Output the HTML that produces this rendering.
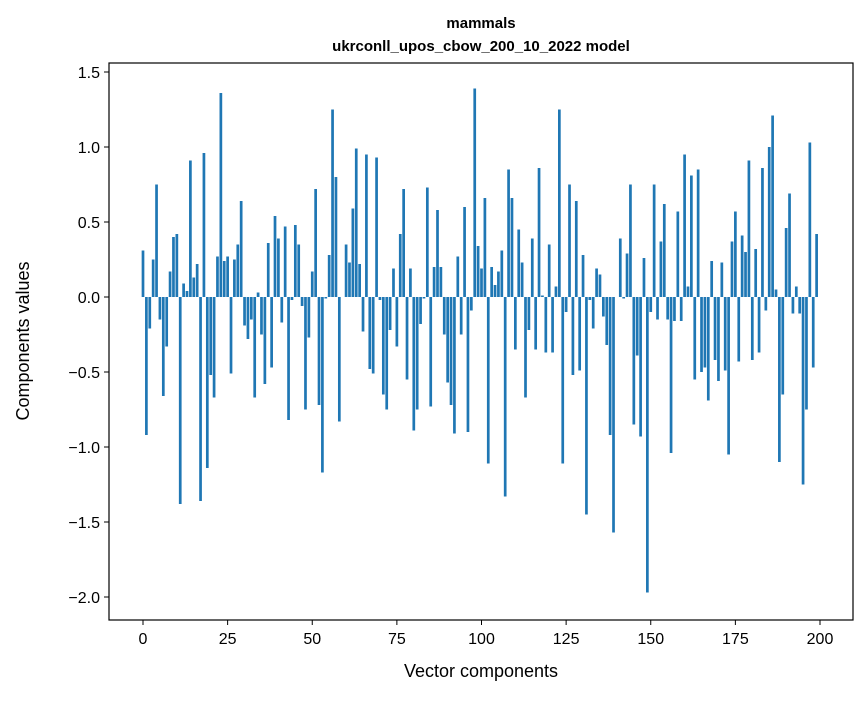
<!DOCTYPE html>
<html><head><meta charset="utf-8"><style>
body{margin:0;background:#fff;}
svg text{font-family:"Liberation Sans","DejaVu Sans",sans-serif;fill:#000;}
</style></head><body>
<svg id="chart" width="867" height="696" xmlns="http://www.w3.org/2000/svg">
<rect width="867" height="696" fill="#fff"/>
<text x="481" y="28" text-anchor="middle" font-size="15" font-weight="bold">mammals</text>
<text x="481" y="51" text-anchor="middle" font-size="15" font-weight="bold">ukrconll_upos_cbow_200_10_2022 model</text>
<g id="bars"></g>
<g id="axes"></g>
<rect x="109" y="63" width="744" height="557" fill="none" stroke="#000" stroke-width="1.2"/>
<text x="481" y="677" text-anchor="middle" font-size="18">Vector components</text>
<text transform="translate(29,341) rotate(-90)" text-anchor="middle" font-size="18">Components values</text>
</svg>
<script>
const values = [0.31,-0.92,-0.21,0.25,0.75,-0.15,-0.66,-0.33,0.17,0.40,0.42,-1.38,0.09,0.04,0.91,0.13,0.22,-1.36,0.96,-1.14,
-0.52,-0.67,0.27,1.36,0.24,0.27,-0.51,0.25,0.35,0.64,-0.19,-0.28,-0.15,-0.67,0.03,-0.25,-0.58,0.36,-0.47,0.54,
0.39,-0.17,0.47,-0.82,-0.02,0.48,0.35,-0.06,-0.75,-0.27,0.17,0.72,-0.72,-1.17,-0.01,0.28,1.25,0.80,-0.83,0.0,
0.35,0.23,0.59,0.99,0.22,-0.23,0.95,-0.48,-0.51,0.93,-0.02,-0.65,-0.75,-0.22,0.19,-0.33,0.42,0.72,-0.55,0.19,
-0.89,-0.75,-0.18,-0.01,0.73,-0.73,0.20,0.58,0.20,-0.25,-0.57,-0.72,-0.91,0.27,-0.25,0.60,-0.90,-0.09,1.39,0.34,
0.19,0.66,-1.11,0.20,0.08,0.17,0.31,-1.33,0.85,0.66,-0.35,0.45,0.23,-0.67,-0.22,0.39,-0.35,0.86,0.01,-0.37,
0.35,-0.37,0.07,1.25,-1.11,-0.10,0.75,-0.52,0.64,-0.49,0.28,-1.45,-0.02,-0.21,0.19,0.15,-0.13,-0.32,-0.92,-1.57,
0.0,0.39,-0.01,0.29,0.75,-0.85,-0.39,-0.93,0.26,-1.97,-0.10,0.75,-0.15,0.37,0.62,-0.15,-1.04,-0.16,0.57,-0.16,
0.95,0.07,0.81,-0.55,0.85,-0.50,-0.47,-0.69,0.24,-0.42,-0.56,0.23,-0.49,-1.05,0.37,0.57,-0.43,0.41,0.30,0.91,
-0.42,0.32,-0.37,0.86,-0.09,1.00,1.21,0.05,-1.10,-0.65,0.46,0.69,-0.11,0.07,-0.11,-1.25,-0.75,1.03,-0.47,0.42];
const xTicks = [0,25,50,75,100,125,150,175,200];
const yTicks = [-2.0,-1.5,-1.0,-0.5,0.0,0.5,1.0,1.5];
const yTickLabels = ["\u22122.0","\u22121.5","\u22121.0","\u22120.5","0.0","0.5","1.0","1.5"];

const X = v => 143 + v * 3.385;
const Y = v => 297 - v * 150;
const NS = "http://www.w3.org/2000/svg";
const bars = document.getElementById('bars');
values.forEach((v, i) => {
  const r = document.createElementNS(NS, 'rect');
  
  
  r.setAttribute('x', X(i - 0.4));
  r.setAttribute('width', 0.8 * 3.385);
  r.setAttribute('y', Math.min(Y(v), Y(0)));
  r.setAttribute('height', Math.abs(Y(v) - Y(0)));
  r.setAttribute('fill', '#1f77b4');
  bars.appendChild(r);
});
const axes = document.getElementById('axes');
xTicks.forEach(t => {
  const l = document.createElementNS(NS, 'line');
  
  
  l.setAttribute('x1', X(t)); l.setAttribute('x2', X(t));
  l.setAttribute('y1', 620); l.setAttribute('y2', 625);
  l.setAttribute('stroke', '#000');
  axes.appendChild(l);
  const tx = document.createElementNS(NS, 'text');
  
  
  tx.setAttribute('x', X(t)); tx.setAttribute('y', 644);
  tx.setAttribute('text-anchor', 'middle');
  tx.setAttribute('font-size', '16');
  tx.textContent = t;
  axes.appendChild(tx);
});
yTicks.forEach((t, k) => {
  const l = document.createElementNS(NS, 'line');
  
  
  l.setAttribute('x1', 104); l.setAttribute('x2', 109);
  l.setAttribute('y1', Y(t)); l.setAttribute('y2', Y(t));
  l.setAttribute('stroke', '#000');
  axes.appendChild(l);
  const tx = document.createElementNS(NS, 'text');
  
  
  tx.setAttribute('x', 100); tx.setAttribute('y', Y(t) + 6);
  tx.setAttribute('text-anchor', 'end');
  tx.setAttribute('font-size', '16');
  tx.textContent = yTickLabels[k];
  axes.appendChild(tx);
});
</script>
</body></html>
